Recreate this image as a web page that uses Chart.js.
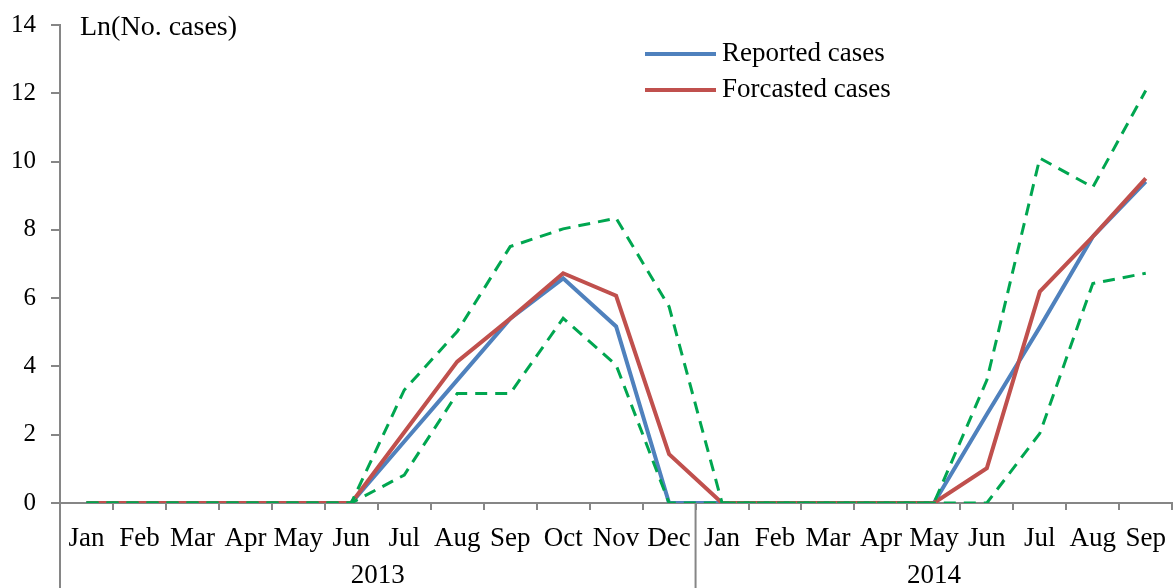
<!DOCTYPE html>
<html>
<head>
<meta charset="utf-8">
<script src="https://cdn.jsdelivr.net/npm/chart.js@4"></script>
<style>
  html, body { margin: 0; padding: 0; background: #fff; overflow: hidden; }
  #wrap { width: 1179px; height: 588px; position: relative; }
</style>
</head>
<body>
<div id="wrap"><canvas id="chart"></canvas></div>
<script>
// months for the two years (2013 full, 2014 up to Sep)
const months = ['Jan','Feb','Mar','Apr','May','Jun','Jul','Aug','Sep','Oct','Nov','Dec',
                'Jan','Feb','Mar','Apr','May','Jun','Jul','Aug','Sep'];
const years = [{ label: '2013', count: 12 }, { label: '2014', count: 9 }];
const yTicks = [0, 2, 4, 6, 8, 10, 12, 14];

const reported  = [0,0,0,0,0,0, 1.8,3.6,5.4,6.58,5.17,0, 0,0,0,0,0, 2.6,5.15,7.8,9.41];
const forecast  = [0,0,0,0,0,0, 2.07,4.14,5.4,6.73,6.07,1.43, 0,0,0,0,0, 1.02,6.19,7.8,9.51];
const upperBound = [0,0,0,0,0,0, 3.31,5.02,7.51,8.03,8.34,5.75, 0,0,0,0,0, 3.6,10.1,9.25,12.08];
const lowerBound = [0,0,0,0,0,0, 0.82,3.21,3.21,5.41,4.04,0, 0,0,0,0,0, 0,2.04,6.43,6.73];

const FONT = '"Liberation Serif", "Times New Roman", serif';
const AXIS = '#868686';

// draws y title, legend, year row and the long separator lines
const extras = {
  id: 'extras',
  afterDraw(chart) {
    const { ctx, chartArea: a, scales: { x } } = chart;
    ctx.save();
    ctx.fillStyle = '#000';
    ctx.textBaseline = 'middle';
    ctx.textAlign = 'left';
    ctx.font = '28px ' + FONT;
    ctx.fillText('Ln(No. cases)', a.left + 20, a.top + 3);

    // legend (reported + forecast only)
    ctx.font = '27px ' + FONT;
    chart.data.datasets.slice(0, 2).forEach((ds, i) => {
      const y = 54 + i * 36;
      ctx.strokeStyle = ds.borderColor;
      ctx.lineWidth = 4;
      ctx.beginPath();
      ctx.moveTo(645, y);
      ctx.lineTo(716, y);
      ctx.stroke();
      ctx.fillText(ds.label, 722, y);
    });

    // year labels + dividers
    const half = (x.getPixelForValue(1) - x.getPixelForValue(0)) / 2;
    ctx.strokeStyle = AXIS;
    ctx.lineWidth = 2;
    ctx.beginPath();
    ctx.moveTo(a.left, a.bottom);
    ctx.lineTo(a.left, chart.height);
    ctx.stroke();
    let start = 0;
    ctx.textAlign = 'center';
    years.forEach(yr => {
      const l = x.getPixelForValue(start) - half;
      const r = x.getPixelForValue(start + yr.count - 1) + half;
      ctx.fillText(yr.label, (l + r) / 2, 576);
      if (start + yr.count < months.length) {
        ctx.beginPath();
        ctx.moveTo(r, a.bottom);
        ctx.lineTo(r, chart.height);
        ctx.stroke();
      }
      start += yr.count;
    });
    ctx.restore();
  }
};

const lineDs = (label, data, color, dashed, order) => ({
  label, data, order,
  borderColor: color,
  borderWidth: dashed ? 3 : 4,
  borderDash: dashed ? [12, 8] : [],
  pointRadius: 0,
  tension: 0,
  fill: false
});

new Chart(document.getElementById('chart'), {
  type: 'line',
  data: {
    labels: months,
    datasets: [
      lineDs('Reported cases', reported, '#4F81BD', false, 3),
      lineDs('Forcasted cases', forecast, '#C0504D', false, 2),
      lineDs('Upper bound', upperBound, '#00A650', true, 1),
      lineDs('Lower bound', lowerBound, '#00A650', true, 0)
    ]
  },
  options: {
    responsive: true,
    maintainAspectRatio: false,
    animation: false,
    layout: { padding: { top: 25, right: 0, left: 0, bottom: 0 } },
    plugins: { legend: { display: false }, tooltip: { enabled: false } },
    scales: {
      x: {
        offset: true,
        grid: { offset: true, drawOnChartArea: false, tickLength: 7, color: AXIS, lineWidth: 2 },
        border: { color: AXIS, width: 2 },
        ticks: { color: '#000', font: { family: FONT, size: 27 }, padding: 13, autoSkip: false, maxRotation: 0 },
        afterFit(s) { s.height = 85; }
      },
      y: {
        min: 0, max: 14,
        afterBuildTicks(s) { s.ticks = yTicks.map(v => ({ value: v })); },
        grid: { drawOnChartArea: false, tickLength: 9, color: AXIS, lineWidth: 2 },
        border: { color: AXIS, width: 2 },
        ticks: { color: '#000', font: { family: FONT, size: 25 }, padding: 15 },
        afterFit(s) { s.width = 60; s.paddingTop = 0; s.paddingBottom = 0; }
      }
    }
  },
  plugins: [extras]
});
</script>
</body>
</html>
